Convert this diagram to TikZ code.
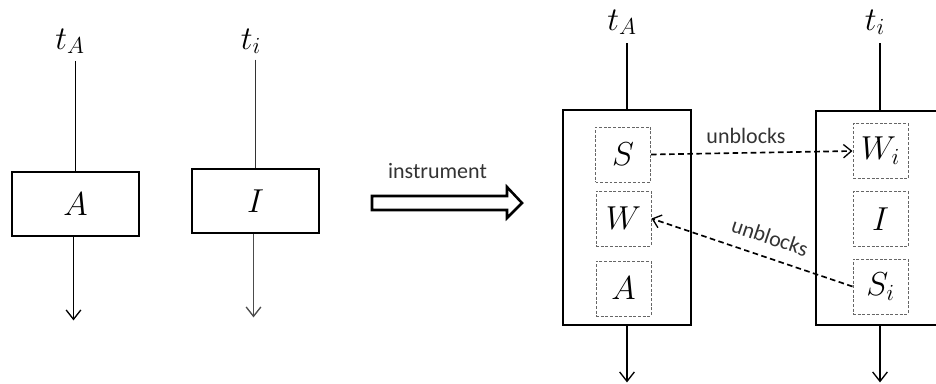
\documentclass[tikz,border=0pt]{standalone}
\usepackage{fontspec}
\setmainfont{Carlito}
\usetikzlibrary{arrows.meta}

\begin{document}
\begin{tikzpicture}[x=0.75pt, y=-0.75pt,
  thinline/.style={line width=1pt, black},
  downarr/.style={thinline, -{Straight Barb[length=7pt, width=11pt, line width=1pt]}},
  bigbox/.style={draw, line width=2.1pt, rectangle, inner sep=0pt},
  slot/.style={draw=black!60, line width=0.75pt, dash pattern=on 2.2pt off 1.3pt,
               rectangle, minimum width=41.25pt, minimum height=41.25pt, inner sep=0pt,
               font=\fontsize{24}{28}\selectfont},
  mathlbl/.style={anchor=base, inner sep=0pt, font=\fontsize{24}{28}\selectfont},
  txt/.style={inner sep=0pt, font=\fontsize{16.5}{20}\selectfont, text=black!80},
  dasharr/.style={line width=1.25pt, dash pattern=on 4.2pt off 2.6pt,
                  -{Straight Barb[length=6pt, width=10pt, line width=1pt]}}]

\useasboundingbox (0,0) rectangle (936,383);
\clip (0,0) rectangle (936,383);

% ---------- before: plain transactions ----------
\node[bigbox, minimum width=95.25pt, minimum height=48pt,
      font=\fontsize{24}{28}\selectfont] (boxA) at (75.5,204) {$A$};
\node[mathlbl] (lblA) at (70,49) {$t_A$};
\draw[thinline, shorten <=5pt] (boxA.north |- lblA.south) -- (boxA.north);
\path (boxA.south) ++(-2,83) coordinate (endA);
\draw[downarr] (boxA.south -| endA) -- (endA);

\node[bigbox, minimum width=95.25pt, minimum height=48pt,
      font=\fontsize{24}{28}\selectfont] (boxI) at (255.5,201) {$I$};
\node[mathlbl] (lblI) at (251,49) {$t_i$};
\draw[thinline, black!80, line width=0.8pt, shorten <=4pt] (boxI.north |- lblI.south) -- (boxI.north);
\path (boxI.south) ++(-2,83) coordinate (endI);
\draw[downarr, black!70, line width=0.8pt] (boxI.south -| endI) -- (endI);

% ---------- transformation arrow ----------
\node[txt] (instr) at (437.5,171) {instrument};
\draw[line width=1.9pt, line join=miter, fill=white]
  (372,196) -- (507,196) -- (507,187) -- (522,203) -- (507,218) -- (507,210) -- (372,210) -- cycle;

% ---------- after: instrumented transactions ----------
\node[bigbox, minimum width=96pt, minimum height=161.25pt] (boxL) at (627,217.5) {};
\node[mathlbl] (lblL) at (622,30) {$t_A$};
\draw[thinline, shorten <=6pt] (boxL.north |- lblL.south) -- (boxL.north);
\path (boxL.south) ++(0,56) coordinate (endL);
\draw[downarr] (boxL.south) -- (endL);

\node[slot] (S) at (623,154.5) {$S$};
\node[slot] (W) at (623.5,218.5) {$W$};
\node[slot] (A2) at (623.5,288.5) {$A$};

\node[bigbox, minimum width=96pt, minimum height=160.5pt] (boxR) at (880,218) {};
\node[mathlbl] (lblR) at (875,30) {$t_i$};
\draw[thinline, shorten <=6pt] (boxR.north |- lblR.south) -- (boxR.north);
\path (boxR.south) ++(0,56) coordinate (endR);
\draw[downarr] (boxR.south) -- (endR);

\node[slot] (Wi) at (880.5,151) {$W_i$};
\node[slot] (I2) at (880.5,219) {$I$};
\node[slot] (Si) at (880.5,286.5) {$S_i$};

% ---------- unblocking relations ----------
\draw[dasharr] (S.east) -- (Wi.west);
\node[txt] (ub1) at (746,136) {unblocks};
\draw[dasharr] (Si.west) -- (W.east);
\node[txt, rotate=-18.6] (ub2) at (770,237) {unblocks};

\end{tikzpicture}
\end{document}
